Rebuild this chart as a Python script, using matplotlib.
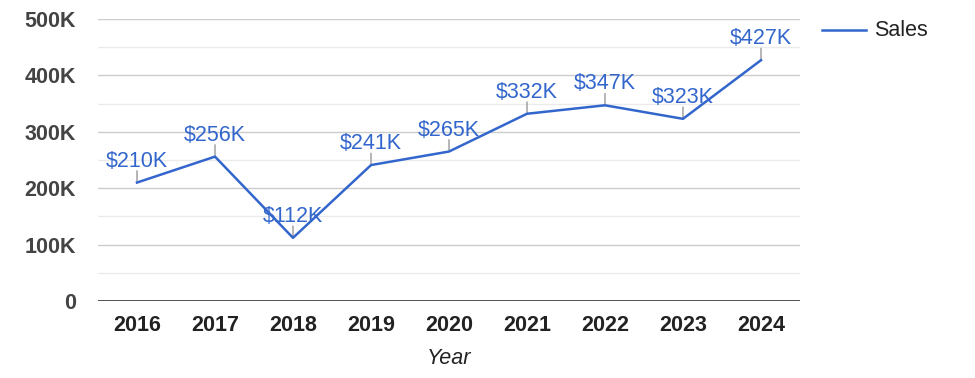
import matplotlib
matplotlib.use("Agg")
import matplotlib.pyplot as plt

plt.rcParams['font.family'] = ['Liberation Sans', 'DejaVu Sans']

years = ["2016", "2017", "2018", "2019", "2020", "2021", "2022", "2023", "2024"]
sales = [210, 256, 112, 241, 265, 332, 347, 323, 427]  # thousands
labels = ["$210K", "$256K", "$112K", "$241K", "$265K", "$332K", "$347K", "$323K", "$427K"]
yticks = [0, 100, 200, 300, 400, 500]
ytick_labels = ["0", "100K", "200K", "300K", "400K", "500K"]

W, H = 975, 378
fig = plt.figure(figsize=(W / 100, H / 100), dpi=100)
ax = fig.add_axes([98 / W, 1 - 301 / H, (800 - 98) / W, (301 - 19) / H])

x = list(range(len(years)))
color = "#3366CC"
ax.plot(x, sales, color=color, lw=1.8, label="Sales", zorder=3)

ax.set_xlim(-0.5, len(years) - 0.5)
ax.set_ylim(0, 500)

for yv in [50, 150, 250, 350, 450]:
    ax.axhline(yv, color="#ebebeb", lw=1, zorder=0)
for yv in [100, 200, 300, 400, 500]:
    ax.axhline(yv, color="#cccccc", lw=1, zorder=0)
ax.axhline(0, color="#333333", lw=1.2, zorder=4)

for s in ax.spines.values():
    s.set_visible(False)

FS = 15.5
ax.set_yticks(yticks)
ax.set_yticklabels(ytick_labels, fontsize=FS, fontweight="bold", color="#444444")
ax.set_xticks(x)
ax.set_xticklabels(years, fontsize=FS, fontweight="bold", color="#222222")
ax.tick_params(axis="both", length=0)
ax.tick_params(axis="y", pad=16)
ax.tick_params(axis="x", pad=10)

ax.set_xlabel("Year", fontsize=FS, style="italic", color="#222222", labelpad=9)

for xi, v, lab in zip(x, sales, labels):
    ax.annotate("", xy=(xi, v), xytext=(0, 8.5), textcoords="offset points",
                arrowprops=dict(arrowstyle="-", color="#999999", lw=1, shrinkA=0, shrinkB=0),
                zorder=2)
    ax.annotate(lab, xy=(xi, v), xytext=(0, 11.5), textcoords="offset points",
                ha="center", va="baseline", fontsize=FS, color=color, zorder=5)

# Legend
fig.lines.append(plt.Line2D([822 / W, 866 / W], [1 - 30 / H, 1 - 30 / H],
                            color=color, lw=1.8, transform=fig.transFigure))
fig.text(874 / W, 1 - 30 / H, "Sales", fontsize=FS, color="#222222", va="center", ha="left")

fig.savefig("out.png", dpi=100)
